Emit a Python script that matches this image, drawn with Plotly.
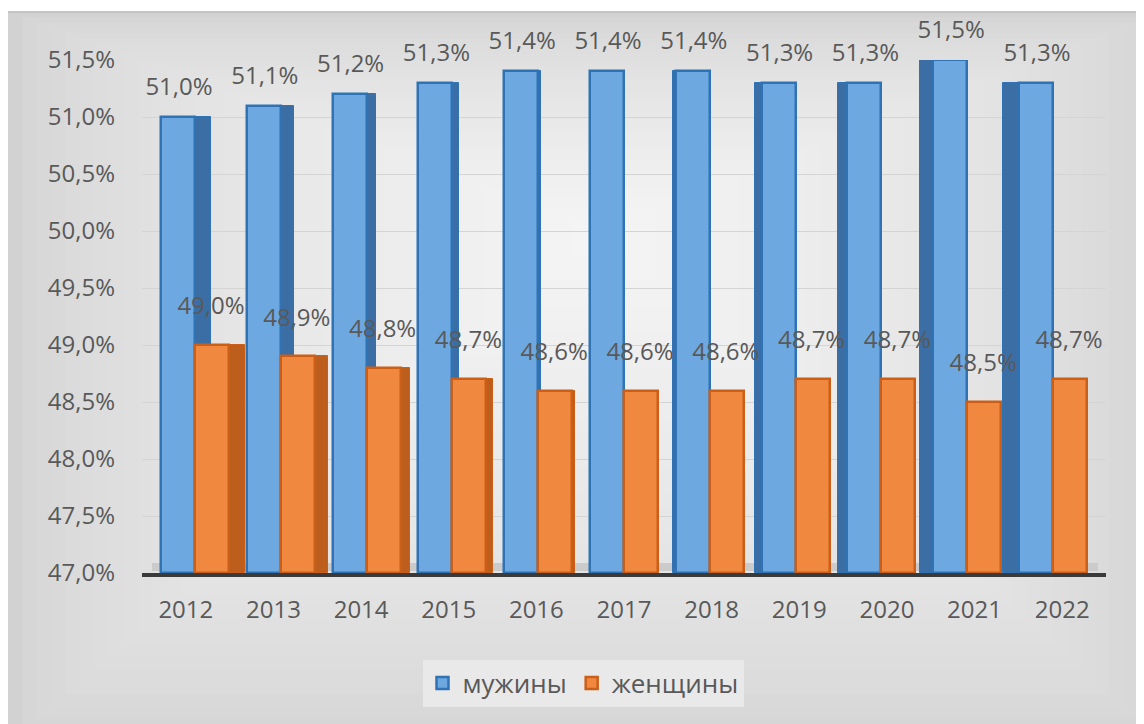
import plotly.graph_objects as go

years = ["2012", "2013", "2014", "2015", "2016", "2017", "2018", "2019", "2020", "2021", "2022"]
men = [51.0, 51.1, 51.2, 51.3, 51.4, 51.4, 51.4, 51.3, 51.3, 51.5, 51.3]
women = [49.0, 48.9, 48.8, 48.7, 48.6, 48.6, 48.6, 48.7, 48.7, 48.5, 48.7]
y_ticks = [47.0, 47.5, 48.0, 48.5, 49.0, 49.5, 50.0, 50.5, 51.0, 51.5]
series_names = ["мужины", "женщины"]

W, H = 1144, 724
OFF = 8                                  # page offset of the plot div
L, R, T, B = 142 - OFF, 38 + OFF, 60 - OFF, 151 + OFF
PW, PH = W - L - R, H - T - B
FONT = "Open Sans"
TXT = "#595959"

BLUE = "#6ea8e0"
BLUE_EDGE = "#2f73b4"
BLUE_SIDE = "#3a6ea5"
ORANGE = "#f0883f"
ORANGE_EDGE = "#cc5f18"
ORANGE_SIDE = "#bd5e1d"


def px_to_paper(x, y):
    # x, y in screenshot pixels
    return (x - OFF - L) / PW, (H - B - (y - OFF)) / PH


def fmt(v):
    return f"{v:.1f}%".replace(".", ",")


fig = go.Figure()

# invisible trace so the main category axis (year ticks) has data
fig.add_trace(go.Scatter(x=years, y=men, mode="markers", marker=dict(size=1, opacity=0),
                         showlegend=False, hoverinfo="skip", xaxis="x", yaxis="y"))

# bars live on a slightly compressed overlay category axis (perspective look)
unit_px = 85.8
span = PW / unit_px
r0 = -(195 - 142) / unit_px
bar_range = [r0, r0 + span]
lab_d = 16 / unit_px

bw = 34 / unit_px
n = len(years)
side_px = [3.2 * (5 - i) for i in range(n)]          # depth face width (perspective)
side_w = [max(abs(s), 0.1) / unit_px for s in side_px]
blue_side_off = [0.0 if s >= 0 else -bw - w for s, w in zip(side_px, side_w)]
orange_side_off = [bw if s >= 0 else -w for s, w in zip(side_px, side_w)]

men_h = [v - 47 for v in men]
women_h = [v - 47 for v in women]

common = dict(base=47, xaxis="x2", yaxis="y")
fig.add_trace(go.Bar(x=years, y=men_h, offset=blue_side_off, width=side_w,
                     marker=dict(color=BLUE_SIDE, line=dict(color=BLUE_EDGE, width=1)),
                     showlegend=False, hoverinfo="skip", **common))
fig.add_trace(go.Bar(x=years, y=women_h, offset=orange_side_off, width=side_w,
                     marker=dict(color=ORANGE_SIDE, line=dict(color=ORANGE_EDGE, width=1)),
                     showlegend=False, hoverinfo="skip", **common))
fig.add_trace(go.Bar(x=years, y=men_h, offset=-bw, width=bw, name=series_names[0],
                     marker=dict(color=BLUE, line=dict(color=BLUE_EDGE, width=2.5)), **common))
fig.add_trace(go.Bar(x=years, y=women_h, offset=0.0, width=bw, name=series_names[1],
                     marker=dict(color=ORANGE, line=dict(color=ORANGE_EDGE, width=2.5)), **common))

# value labels (text on invisible markers, on shifted overlay category axes)
fig.add_trace(go.Scatter(x=years, y=men, mode="markers+text", text=[fmt(v) for v in men],
                         textposition="top center", marker=dict(size=24, opacity=0),
                         textfont=dict(family=FONT, size=24, color=TXT),
                         cliponaxis=False, showlegend=False, hoverinfo="skip",
                         xaxis="x3", yaxis="y"))
fig.add_trace(go.Scatter(x=years, y=women, mode="markers+text", text=[fmt(v) for v in women],
                         textposition="top center", marker=dict(size=38, opacity=0),
                         textfont=dict(family=FONT, size=24, color=TXT),
                         cliponaxis=False, showlegend=False, hoverinfo="skip",
                         xaxis="x4", yaxis="y"))

# background panel: nested rectangles approximating a radial gradient
shapes = []
ox0, oy0, ox1, oy1 = 8, 12, W + 20, H + 20
cx, cy = 600, 230
edge = (0xd2, 0xd2, 0xd2)
center = (0xf4, 0xf4, 0xf4)
N = 40
for i in range(N):
    f = i / (N - 1)
    s = 1 - 0.95 * f
    rx0 = cx + (ox0 - cx) * s
    rx1 = cx + (ox1 - cx) * s
    ry0 = cy + (oy0 - cy) * s
    ry1 = cy + (oy1 - cy) * s
    g = f ** 0.6
    col = tuple(int(round(edge[k] + (center[k] - edge[k]) * g)) for k in range(3))
    a0 = px_to_paper(rx0, ry1)
    a1 = px_to_paper(rx1, ry0)
    shapes.append(dict(type="rect", xref="paper", yref="paper", x0=a0[0], y0=a0[1], x1=a1[0], y1=a1[1],
                       fillcolor="rgb(%d,%d,%d)" % col, line=dict(width=0), layer="below"))
t0 = px_to_paper(ox0, oy0)
t1 = px_to_paper(ox1, oy0)
shapes.append(dict(type="line", xref="paper", yref="paper", x0=t0[0], y0=t0[1], x1=t1[0], y1=t1[1],
                   line=dict(color="#c4c4c4", width=2), layer="below"))
# floor band under the bars
f0 = px_to_paper(152, 571)
f1 = px_to_paper(1098, 563)
shapes.append(dict(type="rect", xref="paper", yref="paper", x0=f0[0], y0=f0[1], x1=f1[0], y1=f1[1],
                   fillcolor="#cbcbcb", line=dict(width=0), layer="below"))

lx, ly = px_to_paper(583, 683)

hidden_cat = dict(type="category", overlaying="x", anchor="y", visible=False, fixedrange=True,
                  categoryorder="array", categoryarray=years)

fig.update_layout(
    width=W, height=H,
    margin=dict(l=L, r=R, t=T, b=B, autoexpand=False),
    paper_bgcolor="white",
    plot_bgcolor="rgba(0,0,0,0)",
    barmode="overlay",
    separators=", ",
    font=dict(family=FONT, size=24, color=TXT),
    xaxis=dict(type="category", range=[-0.5, 10.5], categoryorder="array", categoryarray=years,
               showgrid=False, showline=True, linecolor="#3a3a3a", linewidth=4,
               ticks="", ticklabelstandoff=12, fixedrange=True,
               tickfont=dict(family=FONT, size=24, color=TXT)),
    xaxis2=dict(hidden_cat, range=bar_range),
    xaxis3=dict(hidden_cat, range=[bar_range[0] + lab_d, bar_range[1] + lab_d]),
    xaxis4=dict(hidden_cat, range=[bar_range[0] - lab_d, bar_range[1] - lab_d]),
    yaxis=dict(range=[47, 51.5],
               tickvals=y_ticks, ticktext=[fmt(t) for t in y_ticks],
               showgrid=True, gridcolor="#d4d4d4", gridwidth=1, zeroline=False,
               showline=False, ticks="", ticklabelstandoff=26, fixedrange=True,
               tickfont=dict(family=FONT, size=24, color=TXT)),
    legend=dict(orientation="h", x=lx, xanchor="center", y=ly, yanchor="middle",
                bgcolor="#e9e9e9", font=dict(family=FONT, size=26, color=TXT),
                itemwidth=30, tracegroupgap=0),
    shapes=shapes,
    bargap=0,
)

fig.write_html("out.html")
